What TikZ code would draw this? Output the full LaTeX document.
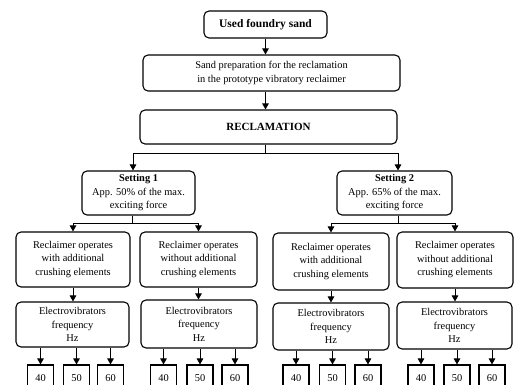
\documentclass[tikz,border=0pt]{standalone}
\usepackage{fontspec}
\setmainfont{Liberation Serif}
\usetikzlibrary{arrows.meta}

\begin{document}
\begin{tikzpicture}[x=1pt,y=-1pt,
						box/.style={draw,rounded corners=5pt,line width=1.1pt,
						align=center,inner sep=1pt,
						font=\fontsize{10.4}{13.5}\selectfont},
						freq/.style={draw,line width=1.1pt,minimum width=26pt,
						minimum height=26pt,inner sep=0pt,
						font=\fontsize{10.4}{12}\selectfont},
						arr/.style={line width=1pt,
						-{Triangle[length=6pt,width=6.5pt]}}]

		\useasboundingbox (0,0) rectangle (514,385);
		\clip (0,0) rectangle (514,385);

		\node[box,minimum width=123pt,minimum height=27pt,font=\fontsize{11.5}{13}\selectfont\bfseries] (used) at (265.5,24.5) {Used foundry sand};
		\node[box,minimum width=257pt,minimum height=36pt] (prep) at (271.5,73) {Sand preparation for the reclamation\\in the prototype vibratory reclaimer};
		\node[box,minimum width=257pt,minimum height=34pt,font=\fontsize{11}{13}\selectfont\bfseries] (recl) at (268.5,127) {RECLAMATION};

		\node[box,minimum width=113pt,minimum height=44pt] (set1) at (138.5,193) {\textbf{Setting 1}\\App. 50\% of the max.\\exciting force};
		\node[box,minimum width=115pt,minimum height=44pt] (set2) at (394.5,193) {\textbf{Setting 2}\\App. 65\% of the max.\\exciting force};

		\node[box,minimum width=114pt,minimum height=55pt] (rec1) at (73,259.5) {Reclaimer operates\\with additional\\crushing elements};
		\node[box,minimum width=117pt,minimum height=55pt] (rec2) at (198.5,259.5) {Reclaimer operates\\without additional\\crushing elements};
		\node[box,minimum width=116pt,minimum height=57pt] (rec3) at (331,261.5) {Reclaimer operates\\with additional\\crushing elements};
		\node[box,minimum width=116pt,minimum height=56pt] (rec4) at (455,260) {Reclaimer operates\\without additional\\crushing elements};

		\node[box,minimum width=113pt,minimum height=45pt] (elec1) at (72.5,324.5) {Electrovibrators\\frequency\\Hz};
		\node[box,minimum width=116pt,minimum height=48pt] (elec2) at (199,324) {Electrovibrators\\frequency\\Hz};
		\node[box,minimum width=116pt,minimum height=47pt] (elec3) at (331,326.5) {Electrovibrators\\frequency\\Hz};
		\node[box,minimum width=115pt,minimum height=47pt] (elec4) at (454.5,325.5) {Electrovibrators\\frequency\\Hz};

		\node[freq] (f11) at (40.5,378) {40};
		\node[freq] (f12) at (76.5,378) {50};
		\node[freq] (f13) at (110.5,378) {60};
		\node[freq] (f21) at (163.5,378) {40};
		\node[freq] (f22) at (200,378) {50};
		\node[freq] (f23) at (235,378) {60};
		\node[freq] (f31) at (296,378) {40};
		\node[freq] (f32) at (332.5,378) {50};
		\node[freq] (f33) at (368,378) {60};
		\node[freq] (f41) at (421,378) {40};
		\node[freq] (f42) at (457,378) {50};
		\node[freq] (f43) at (492,378) {60};

		\coordinate (s1) at (132,223);
		\coordinate (s2) at (398,223);

		\draw[arr] (used) -- (used |- prep.north);
		\draw[arr] (used |- prep.south) -- (used |- recl.north);
		\draw[line width=1pt] ([xshift=-3.5pt]recl.south) -- ++(0,9) coordinate (r0);
		\draw[arr] (r0) -| ([xshift=-5.5pt]set1.north);
		\draw[arr] (r0) -| (set2.north -| s2);

		\draw[line width=1pt] (s1 |- set1.south) -- (s1);
		\draw[arr] (s1) -| (rec1.north);
		\draw[arr] (s1) -| (rec2.north);
		\draw[line width=1pt] (s2 |- set2.south) -- (s2);
		\draw[arr] (s2) -| (rec3.north);
		\draw[arr] (s2) -| (rec4.north);

		\foreach \i in {1,2,3,4}
			\draw[arr] (rec\i.south) -- (rec\i.south |- elec\i.north);

		\foreach \i in {1,2,3,4}
			\foreach \j in {1,2,3}
				\draw[arr] (f\i\j.north |- elec\i.south) -- (f\i\j.north);

	\end{tikzpicture}
\end{document}
